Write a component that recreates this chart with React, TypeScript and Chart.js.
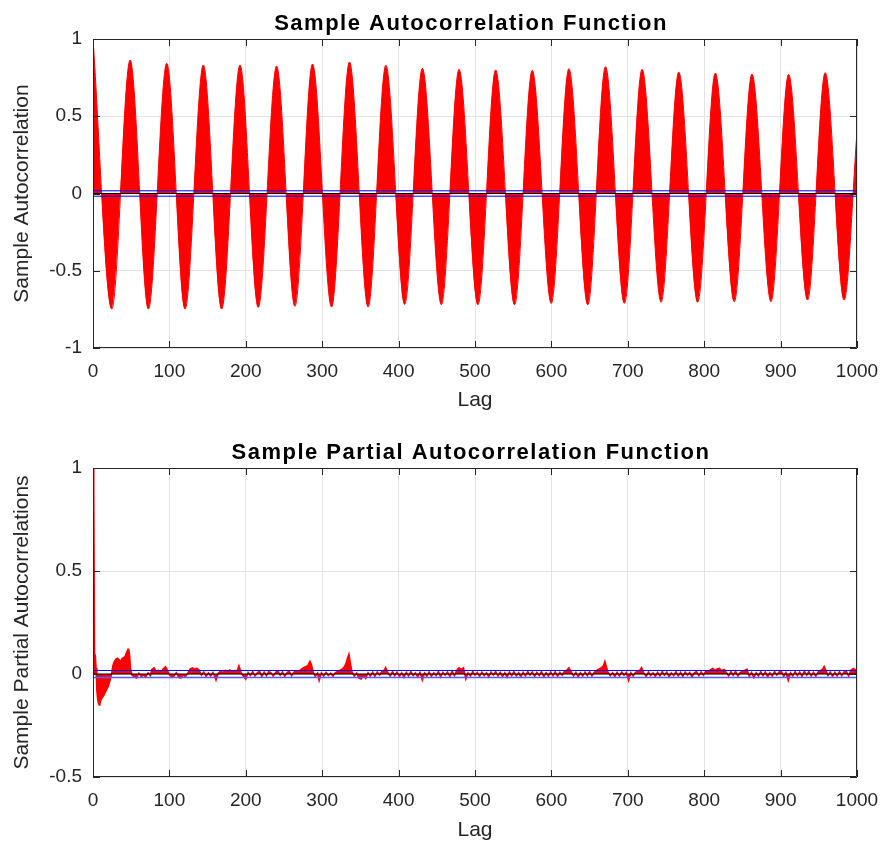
import React, { useEffect, useRef } from "react";
import { Chart, registerables } from "chart.js";

Chart.register(...registerables);

// ---------- tick values / labels ----------
const lagTicks = [0, 100, 200, 300, 400, 500, 600, 700, 800, 900, 1000];
const lagTickLabels = ["0", "100", "200", "300", "400", "500", "600", "700", "800", "900", "1000"];
const acfYTicks = [-1, -0.5, 0, 0.5, 1];
const acfYTickLabels = ["-1", "-0.5", "0", "0.5", "1"];
const pacfYTicks = [-0.5, 0, 0.5, 1];
const pacfYTickLabels = ["-0.5", "0", "0.5", "1"];

// ---------- Sample ACF (start, troughs, peaks, end) ----------
const acfStartLag = 0;
const acfStartValue = 1.0;
const acfEndLag = 1000;
const acfEndValue = 0.4;
const acfPeakLags = [48.6, 96.5, 144.4, 192.4, 240.3, 287.3, 335.7, 383.3, 431.1, 479.1, 527, 574.9, 622.9, 670.8, 718.7, 766.7, 814.6, 862.5, 910.5, 958.4];
const acfPeakValues = [0.864, 0.843, 0.832, 0.832, 0.825, 0.838, 0.851, 0.83, 0.81, 0.804, 0.8, 0.797, 0.808, 0.821, 0.804, 0.786, 0.78, 0.773, 0.771, 0.782];
const acfTroughLags = [24.6, 72.5, 120.5, 168.4, 216.3, 264.3, 312.2, 360.1, 408.0, 456.0, 503.9, 551.8, 599.8, 647.7, 695.6, 743.6, 791.5, 839.4, 887.4, 935.3, 983.2];
const acfTroughValues = [-0.748, -0.748, -0.748, -0.748, -0.737, -0.73, -0.735, -0.735, -0.718, -0.72, -0.72, -0.72, -0.712, -0.72, -0.711, -0.704, -0.704, -0.7, -0.7, -0.689, -0.689];
const acfBound = 0.0175;

// ---------- Sample PACF ----------
const pacfLags = [
  0, 1, 2, 3, 4, 5, 6, 7, 8, 9,
  10, 12, 14, 16, 18, 20, 22, 24, 26, 28,
  30, 32, 34, 36, 38, 40, 42, 44, 46, 47,
  48, 49, 51, 54, 57, 60, 63, 66, 69, 72,
  75, 77, 80, 83, 86, 89, 92, 95, 97, 100,
  103, 106, 109, 112, 115, 118, 121, 124, 127, 130,
  133, 136, 139, 142, 145, 148, 151, 154, 157, 161,
  164, 167, 170, 173, 176, 179, 182, 185, 188, 191,
  194, 197, 200, 203, 206, 209, 212, 215, 218, 221,
  224, 227, 230, 233, 236, 239, 242, 245, 248, 251,
  254, 257, 260, 263, 266, 269, 272, 275, 278, 281,
  284, 286, 288, 291, 294, 296, 299, 302, 305, 308,
  311, 314, 317, 320, 323, 326, 329, 331, 333, 335,
  337, 339, 342, 345, 348, 351, 354, 357, 360, 363,
  366, 369, 372, 375, 378, 381, 383, 386, 389, 392,
  395, 398, 401, 404, 407, 410, 413, 416, 419, 422,
  425, 428, 431, 434, 437, 440, 443, 446, 449, 452,
  455, 458, 461, 464, 467, 470, 473, 476, 479, 482,
  485, 488, 491, 494, 497, 500, 503, 506, 509, 512,
  515, 518, 521, 524, 527, 530, 533, 536, 539, 542,
  545, 548, 551, 554, 557, 560, 563, 566, 569, 572,
  575, 578, 581, 584, 587, 590, 593, 596, 599, 602,
  605, 608, 611, 614, 617, 620, 623, 626, 629, 632,
  635, 638, 641, 644, 647, 650, 653, 656, 659, 662,
  665, 668, 670, 672, 674, 677, 680, 683, 686, 689,
  692, 695, 698, 701, 704, 707, 710, 713, 716, 718,
  721, 724, 727, 730, 733, 736, 739, 742, 745, 748,
  751, 754, 757, 760, 763, 766, 769, 772, 775, 778,
  781, 784, 787, 790, 793, 796, 799, 802, 805, 808,
  811, 814, 817, 820, 823, 826, 829, 832, 835, 838,
  841, 844, 847, 850, 853, 856, 859, 862, 865, 868,
  871, 874, 877, 880, 883, 886, 889, 892, 895, 898,
  901, 904, 907, 910, 913, 916, 919, 922, 925, 928,
  931, 934, 937, 940, 943, 946, 949, 952, 955, 957,
  959, 962, 965, 968, 971, 974, 977, 980, 983, 986,
  989, 992, 995, 998, 1000,
];
const pacfValues = [
  1.0, 0.9, 0.1, 0.09, 0.03, -0.08, -0.12, -0.14, -0.15, -0.145,
  -0.13, -0.115, -0.105, -0.09, -0.075, -0.06, -0.035, -0.005, 0.04, 0.062,
  0.072, 0.077, 0.07, 0.06, 0.075, 0.08, 0.085, 0.105, 0.12, 0.115,
  0.09, 0.03, -0.005, -0.015, -0.02, 0.004, -0.012, -0.006, -0.014, 0.006,
  -0.008, 0.022, 0.03, 0.012, 0.018, 0.008, 0.025, 0.035, 0.022, -0.004,
  -0.014, -0.01, 0.006, -0.016, -0.02, -0.006, -0.013, 0.004, 0.024, 0.03,
  0.022, 0.028, 0.018, -0.006, 0.01, -0.012, 0.006, -0.01, 0.008, -0.03,
  0.004, 0.014, 0.008, 0.018, 0.012, 0.02, 0.01, 0.016, 0.008, 0.04,
  0.004, -0.012, -0.025, 0.008, -0.008, 0.012, -0.01, 0.006, 0.014, -0.012,
  0.01, -0.008, 0.012, 0.006, -0.01, 0.008, 0.014, -0.006, 0.01, -0.012,
  0.008, 0.012, -0.008, 0.01, 0.016, 0.012, 0.022, 0.03, 0.035, 0.04,
  0.062, 0.045, 0.01, -0.012, 0.004, -0.032, 0.006, -0.01, 0.008, -0.008,
  0.004, -0.012, 0.006, 0.012, 0.018, 0.024, 0.035, 0.05, 0.075, 0.097,
  0.05, 0.01, -0.01, 0.004, -0.02, -0.025, -0.008, -0.022, 0.006, -0.01,
  0.008, -0.012, 0.01, -0.006, 0.012, 0.018, 0.032, 0.006, -0.01, 0.012,
  -0.008, 0.01, -0.012, 0.006, -0.016, 0.008, -0.01, 0.012, -0.008, 0.006,
  -0.014, 0.008, -0.03, 0.004, -0.01, 0.01, -0.012, 0.006, -0.008, 0.012,
  -0.014, 0.008, -0.006, 0.01, -0.012, 0.014, -0.008, 0.018, 0.03, 0.022,
  0.03, -0.025, 0.006, -0.01, 0.012, -0.006, 0.008, -0.012, 0.01, -0.008,
  0.006, -0.014, 0.01, -0.006, 0.012, -0.01, 0.008, -0.012, 0.006, -0.016,
  0.01, -0.008, 0.012, -0.01, 0.006, -0.014, 0.008, -0.01, 0.012, -0.006,
  0.01, -0.012, 0.008, -0.008, 0.012, -0.014, 0.006, -0.01, 0.01, -0.008,
  0.012, -0.012, 0.008, -0.006, 0.014, 0.018, 0.03, 0.012, -0.01, 0.008,
  -0.014, 0.006, -0.01, 0.01, -0.008, 0.012, -0.01, 0.008, 0.016, 0.024,
  0.03, 0.04, 0.062, 0.035, 0.01, -0.008, 0.006, -0.012, 0.008, -0.01,
  0.01, -0.006, 0.008, -0.032, 0.006, -0.01, 0.008, 0.014, 0.02, 0.032,
  0.004, -0.012, 0.01, -0.008, 0.006, -0.012, 0.008, -0.01, 0.012, -0.006,
  0.01, -0.014, 0.006, -0.008, 0.012, -0.01, 0.008, -0.012, 0.01, -0.006,
  0.008, -0.014, 0.006, 0.012, -0.008, 0.01, -0.006, 0.014, 0.012, 0.02,
  0.027, 0.018, 0.024, 0.027, 0.016, 0.022, 0.008, -0.01, 0.012, -0.006,
  0.014, -0.01, 0.008, 0.012, 0.018, 0.024, -0.012, 0.008, -0.018, 0.006,
  -0.01, 0.012, -0.008, 0.01, -0.014, 0.006, -0.01, 0.012, -0.006, 0.01,
  0.014, -0.012, 0.008, -0.032, 0.006, -0.01, 0.012, -0.008, 0.01, -0.012,
  0.014, -0.006, 0.012, -0.01, 0.008, -0.012, 0.01, 0.016, 0.024, 0.037,
  0.02, -0.008, 0.01, -0.012, 0.008, -0.01, 0.012, -0.008, 0.01, 0.014,
  -0.01, 0.018, 0.027, 0.02, 0.012,
];
const pacfBound = 0.017;

// ---------- styling ----------
const FONT_FAMILY = '"Liberation Sans", Arial, Helvetica, sans-serif';
const AXIS_COLOR = "#262626";

const matlabFrame = {
  id: "matlabFrame",
  afterDraw(chart: any, _args: any, opts: any) {
    const { ctx, chartArea } = chart;
    const { left, right, top, bottom } = chartArea;
    const xs = chart.scales.x;
    const ys = chart.scales.y;
    const tl = 7;
    ctx.save();
    ctx.strokeStyle = AXIS_COLOR;
    ctx.lineWidth = 1;
    ctx.beginPath();
    ctx.rect(left + 0.5, top + 0.5, right - left - 1, bottom - top - 1);
    ctx.stroke();
    ctx.beginPath();
    xs.ticks.forEach((t: any) => {
      const px = Math.round(xs.getPixelForValue(t.value)) + 0.5;
      ctx.moveTo(px, bottom);
      ctx.lineTo(px, bottom - tl);
      ctx.moveTo(px, top);
      ctx.lineTo(px, top + tl);
    });
    ys.ticks.forEach((t: any) => {
      const py = Math.round(ys.getPixelForValue(t.value)) + 0.5;
      ctx.moveTo(left, py);
      ctx.lineTo(left + tl, py);
      ctx.moveTo(right, py);
      ctx.lineTo(right - tl, py);
    });
    ctx.stroke();
    // title
    ctx.fillStyle = "#000000";
    ctx.font = `bold 22px ${FONT_FAMILY}`;
    ctx.textAlign = "center";
    ctx.textBaseline = "alphabetic";
    try {
      (ctx as any).letterSpacing = "1.5px";
    } catch (e) {}
    ctx.fillText(opts.text, (left + right) / 2 - 4, top - 9.5);
    ctx.restore();
  },
};

function buildAcfPoints() {
  const pts: { x: number; y: number }[] = [{ x: acfStartLag, y: acfStartValue }];
  acfTroughLags.forEach((l, i) => pts.push({ x: l, y: acfTroughValues[i] }));
  acfPeakLags.forEach((l, i) => pts.push({ x: l, y: acfPeakValues[i] }));
  pts.push({ x: acfEndLag, y: acfEndValue });
  pts.sort((a, b) => a.x - b.x);
  return pts;
}

function buildPacfPoints() {
  return pacfLags.map((l, i) => ({ x: l, y: pacfValues[i] }));
}

function makeConfig(opts: {
  series: { x: number; y: number }[];
  smooth: boolean;
  yMin: number;
  yMax: number;
  yTicks: number[];
  yTickLabels: string[];
  yTitle: string;
  title: string;
  bound: number;
  xTitleBottom: number;
  heavyLower: boolean;
  seriesWidth: number;
}): any {
  const xmin = lagTicks[0];
  const xmax = lagTicks[lagTicks.length - 1];
  return {
    type: "line",
    data: {
      datasets: [
        {
          data: [
            { x: xmin, y: opts.bound },
            { x: xmax, y: opts.bound },
          ],
          borderColor: "#0000ff",
          borderWidth: 1,
          pointRadius: 0,
          fill: false,
          order: 0,
        },
        {
          data: [
            { x: xmin, y: -opts.bound },
            { x: xmax, y: -opts.bound },
          ],
          borderColor: opts.heavyLower ? "#5a5aff" : "#0000ff",
          borderWidth: opts.heavyLower ? 1.5 : 1,
          pointRadius: 0,
          fill: false,
          order: 0,
        },
        {
          data: [
            { x: xmin, y: 0 },
            { x: xmax, y: 0 },
          ],
          borderColor: "#000000",
          borderWidth: 1,
          pointRadius: 0,
          fill: false,
          order: 1,
        },
        {
          data: opts.series,
          borderColor: "#ff0000",
          backgroundColor: "#ff0000",
          borderWidth: opts.seriesWidth,
          pointRadius: 0,
          fill: "origin",
          tension: 0,
          cubicInterpolationMode: opts.smooth ? "monotone" : "default",
          order: 2,
        },
      ],
    },
    options: {
      animation: false,
      responsive: false,
      devicePixelRatio: 1,
      events: [],
      layout: { padding: { left: 0, right: 31, top: 39, bottom: 0 } },
      plugins: {
        legend: { display: false },
        tooltip: { enabled: false },
        title: { display: false },
        matlabFrame: { text: opts.title },
      },
      scales: {
        x: {
          type: "linear",
          min: xmin,
          max: xmax,
          afterBuildTicks: (s: any) => {
            s.ticks = lagTicks.map((v) => ({ value: v }));
          },
          afterFit: (s: any) => {
            s.height = 74;
            s.paddingLeft = 0;
            s.paddingRight = 0;
          },
          grid: { color: "#e4e4e4", lineWidth: 1, drawTicks: false },
          border: { display: false },
          ticks: {
            color: AXIS_COLOR,
            font: { family: FONT_FAMILY, size: 19 },
            padding: 12,
            maxRotation: 0,
            autoSkip: false,
            callback: (_v: any, i: number) => lagTickLabels[i],
          },
          title: {
            display: true,
            text: "Lag",
            color: AXIS_COLOR,
            font: { family: FONT_FAMILY, size: 21 },
            padding: { top: 0, bottom: opts.xTitleBottom },
          },
        },
        y: {
          type: "linear",
          min: opts.yMin,
          max: opts.yMax,
          afterBuildTicks: (s: any) => {
            s.ticks = opts.yTicks.map((v) => ({ value: v }));
          },
          afterFit: (s: any) => {
            s.width = 93;
            s.paddingTop = 0;
            s.paddingBottom = 0;
          },
          grid: { color: "#e4e4e4", lineWidth: 1, drawTicks: false },
          border: { display: false },
          ticks: {
            color: AXIS_COLOR,
            font: { family: FONT_FAMILY, size: 19 },
            padding: 11,
            callback: (_v: any, i: number) => opts.yTickLabels[i],
          },
          title: {
            display: true,
            text: opts.yTitle,
            color: AXIS_COLOR,
            font: { family: FONT_FAMILY, size: 21 },
            padding: { top: 10, bottom: 0 },
          },
        },
      },
    },
    plugins: [matlabFrame],
  };
}

function Plot({ top, config }: { top: number; config: () => any }) {
  const ref = useRef<HTMLCanvasElement>(null);
  useEffect(() => {
    if (!ref.current) return;
    const chart = new Chart(ref.current, config());
    return () => chart.destroy();
  }, []);
  return (
    <canvas
      ref={ref}
      width={888}
      height={422}
      style={{ position: "absolute", left: 0, top, width: 888, height: 422, display: "block" }}
    />
  );
}

export default function App() {
  return (
    <div
      style={{
        position: "absolute",
        left: 0,
        top: 0,
        width: 888,
        height: 845,
        overflow: "hidden",
        background: "#ffffff",
      }}
    >
      <Plot
        top={0}
        config={() =>
          makeConfig({
            series: buildAcfPoints(),
            smooth: true,
            yMin: -1,
            yMax: 1,
            yTicks: acfYTicks,
            yTickLabels: acfYTickLabels,
            yTitle: "Sample Autocorrelation",
            title: "Sample Autocorrelation Function",
            bound: acfBound,
            xTitleBottom: 9,
            heavyLower: false,
            seriesWidth: 1,
          })
        }
      />
      <Plot
        top={429}
        config={() =>
          makeConfig({
            series: buildPacfPoints(),
            smooth: false,
            yMin: -0.5,
            yMax: 1,
            yTicks: pacfYTicks,
            yTickLabels: pacfYTickLabels,
            yTitle: "Sample Partial Autocorrelations",
            title: "Sample Partial Autocorrelation Function",
            bound: pacfBound,
            xTitleBottom: 8,
            heavyLower: true,
            seriesWidth: 1.5,
          })
        }
      />
    </div>
  );
}
